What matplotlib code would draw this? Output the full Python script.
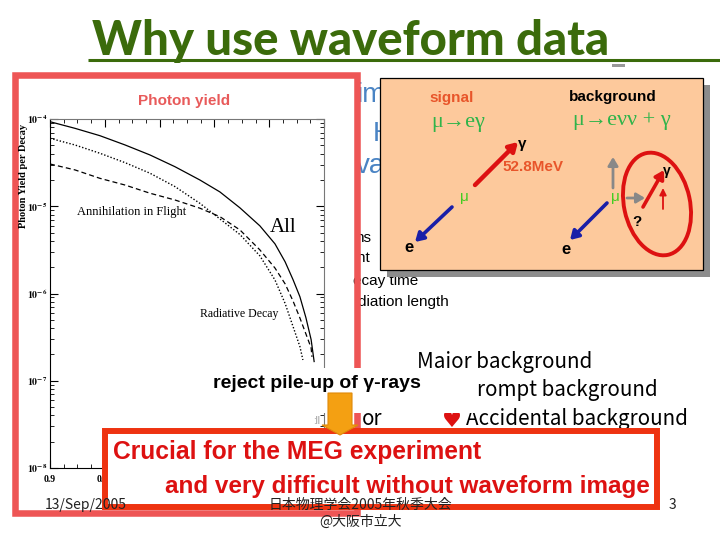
#!/usr/bin/env python3
"""Slide: why use waveform data (MEG photon yield + signal/background sketch)."""
import math

import matplotlib
matplotlib.use("Agg")
import matplotlib.pyplot as plt
from matplotlib.patches import Rectangle, Ellipse, FancyArrow
from matplotlib.ticker import MultipleLocator, FuncFormatter

plt.rcParams["font.family"] = ["Liberation Sans", "DejaVu Sans"]
plt.rcParams["mathtext.fontset"] = "stix"

# photon yield per decay vs E/Emax
x_all = [0.9000, 0.9091, 0.9182, 0.9274, 0.9365, 0.9456, 0.9547, 0.9620, 0.9693,
         0.9766, 0.9821, 0.9858, 0.9887, 0.9912, 0.9934, 0.9953, 0.9964]
y_all = [9.31e-5, 7.82e-5, 6.44e-5, 5.04e-5, 3.87e-5, 2.84e-5, 2.00e-5, 1.46e-5, 9.6e-6,
         5.96e-6, 3.71e-6, 2.31e-6, 1.44e-6, 9.2e-7, 5.28e-7, 2.96e-7, 1.66e-7]

x_dash = [0.9000, 0.9091, 0.9182, 0.9274, 0.9365, 0.9456, 0.9547, 0.9620, 0.9693,
          0.9766, 0.9821, 0.9858, 0.9887, 0.9912, 0.9934, 0.9953, 0.9956]
y_dash = [3.05e-5, 2.61e-5, 2.09e-5, 1.75e-5, 1.41e-5, 1.18e-5, 9.5e-6, 7.6e-6, 5.36e-6,
          3.16e-6, 1.96e-6, 1.29e-6, 8.2e-7, 5.25e-7, 3.44e-7, 2.38e-7, 1.88e-7]

x_dot = [0.9000, 0.9091, 0.9182, 0.9274, 0.9365, 0.9456, 0.9547, 0.9620, 0.9693,
         0.9766, 0.9821, 0.9858, 0.9887, 0.9912, 0.9923]
y_dot = [6.01e-5, 5.04e-5, 4.05e-5, 3.16e-5, 2.39e-5, 1.68e-5, 1.08e-5, 7.16e-6, 4.75e-6,
         2.70e-6, 1.43e-6, 7.7e-7, 4.18e-7, 2.47e-7, 1.73e-7]

# only the first two x labels peek out from under the conclusion box
x_labels_shown = {0.90: "0.9", 0.92: "0.92"}

GREEN = "#3b6b0b"
FRAME = "#ee5555"
BOXRED = "#ee3311"
TXTRED = "#dd1111"
MUGREEN = "#2fb44a"
BLUE = "#4a84c4"

fig = plt.figure(figsize=(7.2, 5.4), dpi=100)

# ---- photon yield plot
ax = fig.add_axes([50 / 720, 1 - 468 / 540, 274 / 720, 349 / 540])
ax.set_yscale("log")
ax.plot(x_all, y_all, color="black", lw=0.9)
ax.plot(x_dot, y_dot, color="black", lw=1.0, ls=(0, (1, 1.4)))
ax.plot(x_dash, y_dash, color="black", lw=0.9, ls=(0, (4, 2.5)))
ax.set_xlim(0.9, 1.0)
ax.set_ylim(1e-8, 1e-4)
ax.xaxis.set_major_locator(MultipleLocator(0.02))
ax.xaxis.set_minor_locator(MultipleLocator(0.005))
ax.xaxis.set_major_formatter(FuncFormatter(lambda v, p: x_labels_shown.get(round(v, 2), "")))
ax.yaxis.set_major_formatter(FuncFormatter(lambda v, p: r"$\mathbf{10^{%d}}$" % round(math.log10(v))))
ax.tick_params(which="both", direction="in", top=True, right=True)
ax.tick_params(which="major", length=6, width=0.8, pad=2)
ax.tick_params(axis="x", which="major", pad=5)
ax.tick_params(axis="y", which="major", labelsize=7)
ax.tick_params(which="minor", length=3, width=0.6)
for lab in ax.get_xticklabels():
    lab.set_family("Liberation Serif")
    lab.set_fontweight("bold")
    lab.set_fontsize(7)
for side in ("top", "right"):
    ax.spines[side].set_color("#777777")

# ---- slide overlay, pixel coordinates
ov = fig.add_axes([0, 0, 1, 1], zorder=5)
ov.set_xlim(0, 720)
ov.set_ylim(540, 0)
ov.axis("off")
ov.patch.set_alpha(0)

ov.text(92, 55, "Why use waveform data", fontsize=34, fontweight=900, family="Lato",
        color=GREEN, va="baseline", ha="left")
ov.plot([88, 720], [60, 60], color=GREEN, lw=2.2, solid_capstyle="butt")
ov.add_patch(Rectangle((612, 64), 13, 2.5, color="#999999", lw=0))

clip = Rectangle((358, 0), 400, 540, transform=ov.transData)


def frag(x, y, s, **kw):
    t = ov.text(x, y, s, va="center", ha="left", zorder=1, **kw)
    t.set_clip_path(clip)
    return t


# text hidden behind the picture and the box
frag(356, 95, "im", fontsize=20, color=BLUE)
frag(373, 134, "H", fontsize=20, color=BLUE)
frag(356, 166, "va", fontsize=20, color=BLUE)
frag(355, 238, "ns", fontsize=11, color="black")
frag(357, 258, "ht", fontsize=11, color="black")
frag(353, 281, "ecay time", fontsize=11, color="black")
frag(358, 302, "diation length", fontsize=11, color="black")

ov.add_patch(Rectangle((15, 75), 341.5, 437.5, fill=False, edgecolor=FRAME, lw=4.7, zorder=2))
ov.text(184, 101, "Photon yield", fontsize=11, fontweight="bold", color="#e85a5a",
        ha="center", va="center", zorder=3)
ov.text(24, 176, "Photon Yield per Decay", family="Liberation Serif", fontweight="bold",
        fontsize=7.5, rotation=90, ha="center", va="center", zorder=3)

# plot annotations
ov.text(77, 212, "Annihilation in Flight", family="Liberation Serif", fontsize=9,
        ha="left", va="center", zorder=3)
ov.text(270, 227, "All", family="Liberation Serif", fontsize=15, ha="left", va="center", zorder=3)
ov.text(200, 314, "Radiative Decay", family="Liberation Serif", fontsize=8.5,
        ha="left", va="center", zorder=3)

# ---- signal / background box
ov.add_patch(Rectangle((387, 85), 323, 192, facecolor="#8c8c8c", lw=0, zorder=3))
ov.add_patch(Rectangle((380, 78), 323, 192, facecolor="#fdc99c", edgecolor="black", lw=0.9, zorder=4))
ov.text(452, 98, "signal", fontsize=11, fontweight="bold", color="#e8552a", ha="center", va="center", zorder=5)
ov.text(458, 122, "μ→eγ", fontsize=16, color=MUGREEN, family=["Liberation Serif", "DejaVu Serif"],
        ha="center", va="center", zorder=5)
ov.text(613, 97, "background", fontsize=11, fontweight="bold", color="black", ha="center", va="center", zorder=5)
ov.text(622, 121, "μ→eνν + γ", fontsize=16, color=MUGREEN, family=["Liberation Serif", "DejaVu Serif"],
        ha="center", va="center", zorder=5)


def arrow(tail, head, color, lw, hl=0.5, hw=0.3):
    ov.annotate("", xy=head, xytext=tail, zorder=5,
                arrowprops=dict(arrowstyle=f"-|>,head_length={hl},head_width={hw}",
                                color=color, lw=lw, shrinkA=0, shrinkB=0))


arrow((475, 185), (518, 142), TXTRED, 3.2)
arrow((452, 207), (415, 242), "#1a1fa8", 2.6)
arrow((613, 188), (613, 157), "#888888", 2.0)
arrow((627, 198), (645, 198), "#888888", 2.0)
arrow((607, 203), (570, 240), "#1a1fa8", 2.6)
arrow((643, 207), (664, 170), TXTRED, 2.6)
arrow((663, 209), (663, 188), TXTRED, 1.3, hl=0.4, hw=0.2)
ov.add_patch(Ellipse((657, 204), 66, 104, angle=-12, fill=False, edgecolor=TXTRED, lw=2.8, zorder=5))

ov.text(522, 144, "γ", fontsize=11, fontweight="bold", ha="center", va="center", zorder=5)
ov.text(533, 167, "52.8MeV", fontsize=11, fontweight="bold", color="#e8552a", ha="center", va="center", zorder=5)
ov.text(464, 197, "μ", fontsize=11, color="#44cc22", ha="center", va="center", zorder=5)
ov.text(409, 247, "e", fontsize=12, fontweight="bold", ha="center", va="center", zorder=5)
ov.text(615, 197, "μ", fontsize=11, color="#44cc22", ha="center", va="center", zorder=5)
ov.text(566, 250, "e", fontsize=12, fontweight="bold", ha="center", va="center", zorder=5)
ov.text(667, 171, "γ", fontsize=10, fontweight="bold", ha="center", va="center", zorder=5)
ov.text(637, 222, "?", fontsize=11, fontweight="bold", ha="center", va="center", zorder=5)

# ---- background list (partly covered)
JP = ["Noto Sans CJK JP", "DejaVu Sans"]
ov.text(417, 368, "Major background", family=JP, fontsize=14.8, ha="left", va="baseline", zorder=1)
ov.text(464, 396, "Prompt background", family=JP, fontsize=14.8, ha="left", va="baseline", zorder=1)
ov.text(466, 425, "Accidental background", family=JP, fontsize=14.8, ha="left", va="baseline", zorder=1)
ov.text(452, 421, "♥", family="DejaVu Sans", fontsize=16, color=TXTRED, ha="center", va="center", zorder=1)
ov.text(362, 425, "or", family=JP, fontsize=14.8, ha="left", va="baseline", zorder=1)
ov.text(313, 421, ":ll", fontsize=7, color="#999999", ha="left", va="center", zorder=1)

ov.add_patch(Rectangle((205, 368), 273, 45, facecolor="white", lw=0, zorder=6))
ov.text(213, 383, "reject pile-up of γ-rays", fontsize=14, fontweight="bold",
        ha="left", va="center", zorder=7)

# ---- conclusion box
ov.add_patch(Rectangle((105, 430.5), 551.5, 76, facecolor="white", edgecolor=BOXRED, lw=4.3, zorder=8))
ov.add_patch(FancyArrow(340, 393, 0, 42, width=24, head_width=36, head_length=10,
                        length_includes_head=True, facecolor="#f4a012", edgecolor="#e08a0a",
                        lw=0.8, zorder=9))
ov.text(113, 452, "Crucial for the MEG experiment", fontsize=17.7, fontweight="bold",
        color=TXTRED, ha="left", va="center", zorder=9)
ov.text(165, 487, "and very difficult without waveform image", fontsize=17.5, fontweight="bold",
        color=TXTRED, ha="left", va="center", zorder=9)

# ---- footer
ov.text(45, 505, "13/Sep/2005", family=JP, fontsize=10, color="#222222", ha="left", va="center", zorder=10)
ov.text(360, 505, "日本物理学会2005年秋季大会", family=JP, fontsize=10, color="#222222",
        ha="center", va="center", zorder=10)
ov.text(360, 522, "@大阪市立大", family=JP, fontsize=10, color="#222222", ha="center", va="center", zorder=10)
ov.text(672, 505, "3", family=JP, fontsize=10, color="#222222", ha="center", va="center", zorder=10)

fig.savefig("out.png", dpi=100)
